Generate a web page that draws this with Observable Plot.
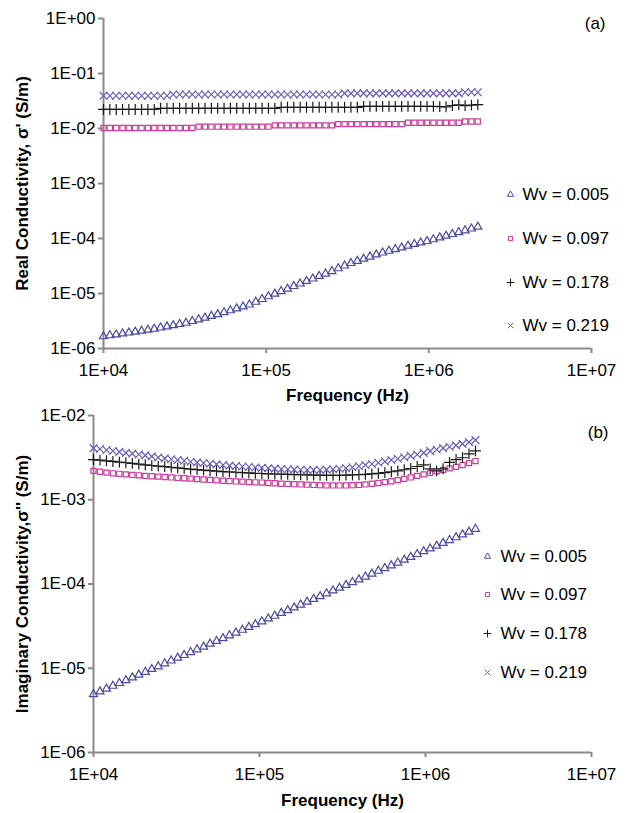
<!DOCTYPE html>
<html><head><meta charset="utf-8">
<script src="https://cdn.jsdelivr.net/npm/d3@7"></script>
<script src="https://cdn.jsdelivr.net/npm/@observablehq/plot@0.6"></script>
<style>
body{margin:0;background:#fff;}
#wrap{width:628px;height:813px;position:relative;overflow:hidden;background:#fff;}
#wrap svg{display:block;}
</style>
</head><body><div id="wrap"></div>
<script>
// Frequency sweep (Hz)
const freq = [10000,10940,11970,13090,14320,15670,17140,18750,20510,22440,
24550,26850,29380,32140,35160,38460,42070,46030,50350,55080,
60260,65920,72110,78890,86300,94410,103300,113000,123600,135200,
147900,161800,177000,193600,211800,231700,253500,277300,303400,331900,
363100,397200,434500,475300,520000,568900,622300,680800,744700,814700,
891300,975000,1067000,1167000,1276000,1396000,1528000,1671000,1828000,2000000];

const seriesNames = ["Wv = 0.005","Wv = 0.097","Wv = 0.178","Wv = 0.219"];
const seriesSymbols = ["triangle","square","plus","times"];
const seriesColors = ["#4a4a9e","#cc3d99","#1a1a1a","#6f5cb8"];

// (a) Real conductivity (S/m)
const re005 = [1.66e-6,1.73e-6,1.79e-6,1.87e-6,1.94e-6,2.01e-6,2.09e-6,2.18e-6,2.27e-6,2.39e-6,
2.51e-6,2.64e-6,2.77e-6,2.92e-6,3.14e-6,3.37e-6,3.62e-6,3.89e-6,4.19e-6,4.54e-6,
4.92e-6,5.33e-6,5.78e-6,6.27e-6,7.03e-6,7.89e-6,8.85e-6,9.86e-6,1.10e-5,1.22e-5,
1.36e-5,1.51e-5,1.68e-5,1.86e-5,2.07e-5,2.29e-5,2.54e-5,2.86e-5,3.21e-5,3.56e-5,
3.89e-5,4.26e-5,4.66e-5,5.09e-5,5.53e-5,5.94e-5,6.38e-5,6.86e-5,7.38e-5,7.91e-5,
8.41e-5,8.95e-5,9.62e-5,1.04e-4,1.12e-4,1.20e-4,1.30e-4,1.40e-4,1.51e-4,1.63e-4];
const re097 = [1.02e-2,1.02e-2,1.02e-2,1.02e-2,1.02e-2,1.02e-2,1.02e-2,1.02e-2,1.02e-2,1.02e-2,
1.02e-2,1.02e-2,1.02e-2,1.02e-2,1.02e-2,1.08e-2,1.08e-2,1.08e-2,1.08e-2,1.08e-2,
1.08e-2,1.08e-2,1.08e-2,1.08e-2,1.08e-2,1.08e-2,1.08e-2,1.14e-2,1.14e-2,1.14e-2,
1.14e-2,1.14e-2,1.14e-2,1.14e-2,1.14e-2,1.14e-2,1.14e-2,1.20e-2,1.20e-2,1.20e-2,
1.20e-2,1.20e-2,1.20e-2,1.20e-2,1.20e-2,1.20e-2,1.20e-2,1.20e-2,1.27e-2,1.27e-2,
1.27e-2,1.27e-2,1.27e-2,1.27e-2,1.27e-2,1.27e-2,1.27e-2,1.34e-2,1.34e-2,1.34e-2];
const re178 = [2.22e-2,2.22e-2,2.22e-2,2.22e-2,2.22e-2,2.22e-2,2.22e-2,2.22e-2,2.22e-2,2.33e-2,
2.33e-2,2.33e-2,2.33e-2,2.33e-2,2.33e-2,2.33e-2,2.33e-2,2.33e-2,2.33e-2,2.33e-2,
2.33e-2,2.33e-2,2.33e-2,2.33e-2,2.33e-2,2.33e-2,2.33e-2,2.33e-2,2.43e-2,2.43e-2,
2.43e-2,2.43e-2,2.43e-2,2.43e-2,2.43e-2,2.43e-2,2.43e-2,2.43e-2,2.43e-2,2.43e-2,
2.43e-2,2.52e-2,2.52e-2,2.52e-2,2.52e-2,2.52e-2,2.52e-2,2.52e-2,2.52e-2,2.52e-2,
2.52e-2,2.52e-2,2.52e-2,2.50e-2,2.48e-2,2.62e-2,2.70e-2,2.60e-2,2.66e-2,2.72e-2];
const re219 = [3.95e-2,3.95e-2,3.95e-2,3.95e-2,3.95e-2,3.95e-2,3.95e-2,3.95e-2,3.95e-2,3.95e-2,
3.95e-2,4.15e-2,4.15e-2,4.15e-2,4.15e-2,4.15e-2,4.15e-2,4.15e-2,4.15e-2,4.15e-2,
4.15e-2,4.15e-2,4.15e-2,4.15e-2,4.15e-2,4.15e-2,4.15e-2,4.15e-2,4.15e-2,4.15e-2,
4.15e-2,4.15e-2,4.15e-2,4.15e-2,4.15e-2,4.15e-2,4.15e-2,4.15e-2,4.35e-2,4.35e-2,
4.35e-2,4.35e-2,4.35e-2,4.35e-2,4.35e-2,4.35e-2,4.35e-2,4.35e-2,4.35e-2,4.35e-2,
4.35e-2,4.35e-2,4.35e-2,4.35e-2,4.35e-2,4.35e-2,4.35e-2,4.55e-2,4.55e-2,4.55e-2];

// (b) Imaginary conductivity (S/m)
const im005 = [4.90e-6,5.29e-6,5.71e-6,6.17e-6,6.65e-6,7.18e-6,7.76e-6,8.37e-6,9.04e-6,9.76e-6,
1.05e-5,1.14e-5,1.23e-5,1.33e-5,1.43e-5,1.55e-5,1.67e-5,1.80e-5,1.95e-5,2.10e-5,
2.27e-5,2.45e-5,2.64e-5,2.85e-5,3.08e-5,3.32e-5,3.59e-5,3.88e-5,4.18e-5,4.52e-5,
4.88e-5,5.26e-5,5.68e-5,6.14e-5,6.63e-5,7.15e-5,7.72e-5,8.34e-5,9.00e-5,9.72e-5,
1.05e-4,1.13e-4,1.22e-4,1.32e-4,1.43e-4,1.54e-4,1.66e-4,1.79e-4,1.94e-4,2.09e-4,
2.26e-4,2.44e-4,2.63e-4,2.84e-4,3.06e-4,3.31e-4,3.57e-4,3.86e-4,4.17e-4,4.50e-4];
const im097 = [2.20e-3,2.15e-3,2.10e-3,2.06e-3,2.03e-3,2.00e-3,1.97e-3,1.95e-3,1.92e-3,1.90e-3,
1.88e-3,1.86e-3,1.84e-3,1.82e-3,1.80e-3,1.78e-3,1.76e-3,1.74e-3,1.72e-3,1.70e-3,
1.68e-3,1.67e-3,1.65e-3,1.64e-3,1.62e-3,1.61e-3,1.60e-3,1.58e-3,1.57e-3,1.55e-3,
1.54e-3,1.53e-3,1.52e-3,1.51e-3,1.50e-3,1.49e-3,1.48e-3,1.48e-3,1.48e-3,1.48e-3,
1.49e-3,1.50e-3,1.52e-3,1.55e-3,1.58e-3,1.62e-3,1.66e-3,1.71e-3,1.77e-3,1.84e-3,
1.92e-3,2.00e-3,2.08e-3,2.17e-3,2.26e-3,2.36e-3,2.46e-3,2.58e-3,2.72e-3,2.88e-3];
const im178 = [3.00e-3,2.95e-3,2.90e-3,2.85e-3,2.80e-3,2.75e-3,2.70e-3,2.65e-3,2.60e-3,2.55e-3,
2.51e-3,2.47e-3,2.43e-3,2.39e-3,2.35e-3,2.31e-3,2.28e-3,2.25e-3,2.22e-3,2.19e-3,
2.16e-3,2.14e-3,2.12e-3,2.10e-3,2.08e-3,2.06e-3,2.05e-3,2.03e-3,2.02e-3,2.01e-3,
2.00e-3,1.99e-3,1.98e-3,1.97e-3,1.96e-3,1.96e-3,1.95e-3,1.95e-3,1.95e-3,1.96e-3,
1.97e-3,1.98e-3,2.00e-3,2.03e-3,2.06e-3,2.10e-3,2.15e-3,2.20e-3,2.27e-3,2.35e-3,
2.48e-3,2.60e-3,2.32e-3,2.20e-3,2.33e-3,2.78e-3,3.00e-3,3.15e-3,3.50e-3,3.80e-3];
const im219 = [4.10e-3,4.00e-3,3.89e-3,3.79e-3,3.70e-3,3.60e-3,3.53e-3,3.45e-3,3.36e-3,3.27e-3,
3.18e-3,3.10e-3,3.03e-3,2.97e-3,2.90e-3,2.83e-3,2.78e-3,2.73e-3,2.68e-3,2.63e-3,
2.58e-3,2.54e-3,2.51e-3,2.48e-3,2.45e-3,2.41e-3,2.39e-3,2.37e-3,2.34e-3,2.32e-3,
2.30e-3,2.28e-3,2.27e-3,2.26e-3,2.25e-3,2.26e-3,2.28e-3,2.30e-3,2.33e-3,2.37e-3,
2.43e-3,2.50e-3,2.58e-3,2.66e-3,2.75e-3,2.85e-3,2.96e-3,3.07e-3,3.19e-3,3.32e-3,
3.45e-3,3.60e-3,3.78e-3,3.95e-3,4.10e-3,4.26e-3,4.42e-3,4.60e-3,4.83e-3,5.10e-3];

const xTicks = [1e4,1e5,1e6,1e7];
const yTicksA = [1e-6,1e-5,1e-4,1e-3,1e-2,1e-1,1];
const yTicksB = [1e-6,1e-5,1e-4,1e-3,1e-2];
const xLabel = "Frequency (Hz)";
const yLabelA = "Real Conductivity, \u03c3' (S/m)";
const yLabelB = "Imaginary Conductivity,\u03c3'' (S/m)";

const FONT = '"Liberation Sans", Arial, Helvetica, sans-serif';
const AXIS = "#8a8a8a";
const fmt = d => { const e = Math.round(Math.log10(d)); return "1E" + (e < 0 ? "-" : "+") + String(Math.abs(e)).padStart(2, "0"); };

function panel(cfg) {
  const marks = [
    Plot.ruleX([xTicks[0]], {stroke: AXIS, strokeWidth: 2}),
    Plot.ruleY([cfg.yTicks[0]], {stroke: AXIS, strokeWidth: 2}),
    Plot.axisX({ticks: xTicks, tickFormat: fmt, tickSize: 5, tickPadding: 10, stroke: AXIS, strokeWidth: 2, fill: "black", fontSize: 17, label: null}),
    Plot.axisY({ticks: cfg.yTicks, tickFormat: fmt, tickSize: 5, tickPadding: 3, stroke: AXIS, strokeWidth: 2, fill: "black", fontSize: 17, label: null}),
  ];
  cfg.values.forEach((vals, s) => {
    const rows = vals.map((v, i) => ({f: freq[i], v}));
    marks.push(Plot.dot(rows, {x: "f", y: "v", symbol: seriesSymbols[s], stroke: seriesColors[s], fill: "none",
      r: [3.0, 2.9, 3.6, 3.6][s], strokeWidth: 1.2}));
  });
  // legend
  seriesNames.forEach((name, s) => {
    marks.push(Plot.dot([name], {frameAnchor: "top-left", dx: cfg.legMx, dy: cfg.legY[s], symbol: seriesSymbols[s],
      stroke: seriesColors[s], fill: "none", r: s < 2 ? 2.3 : 2.6, strokeWidth: 1}));
    marks.push(Plot.text([name], {frameAnchor: "top-left", lineAnchor: "middle", dx: cfg.legTx, dy: cfg.legY[s], text: d => d,
      textAnchor: "start", fontSize: 17, fill: "black"}));
  });
  marks.push(Plot.text([cfg.tag], {frameAnchor: "top-right", lineAnchor: "middle", dx: cfg.tagDx, dy: cfg.tagDy, text: d => d, textAnchor: "end", fontSize: 17, fill: "black"}));
  marks.push(Plot.text([xLabel], {frameAnchor: "bottom", lineAnchor: "middle", dy: cfg.xLabDy, text: d => d, fontSize: 17, fontWeight: "bold", fill: "black"}));
  marks.push(Plot.text([cfg.yLabel], {frameAnchor: "left", textAnchor: "middle", lineAnchor: "middle", dx: cfg.yLabDx, rotate: -90, text: d => d, fontSize: 17, fontWeight: "bold", fill: "black"}));
  return Plot.plot({
    width: 628, height: cfg.height,
    marginTop: cfg.mt, marginBottom: cfg.mb, marginLeft: cfg.ml, marginRight: cfg.mr,
    x: {type: "log", domain: [xTicks[0], xTicks[xTicks.length - 1]]},
    y: {type: "log", domain: [cfg.yTicks[0], cfg.yTicks[cfg.yTicks.length - 1]]},
    style: {fontFamily: FONT, fontSize: "17px", color: "black", background: "white", overflow: "visible"},
    marks
  });
}

const wrap = document.getElementById("wrap");
wrap.appendChild(panel({
  height: 405, mt: 18, mb: 57, ml: 103, mr: 37,
  yTicks: yTicksA, values: [re005, re097, re178, re219], yLabel: yLabelA,
  legMx: 407, legTx: 419, legY: [176, 220, 264, 307],
  tag: "(a)", tagDx: 14, tagDy: 5, xLabDy: 47, yLabDx: -81
}));
wrap.appendChild(panel({
  height: 408, mt: 10, mb: 61, ml: 93, mr: 37,
  yTicks: yTicksB, values: [im005, im097, im178, im219], yLabel: yLabelB,
  legMx: 394, legTx: 407, legY: [141, 179, 218, 257],
  tag: "(b)", tagDx: 17, tagDy: 17, xLabDy: 48, yLabDx: -71
}));
</script>
</body></html>
